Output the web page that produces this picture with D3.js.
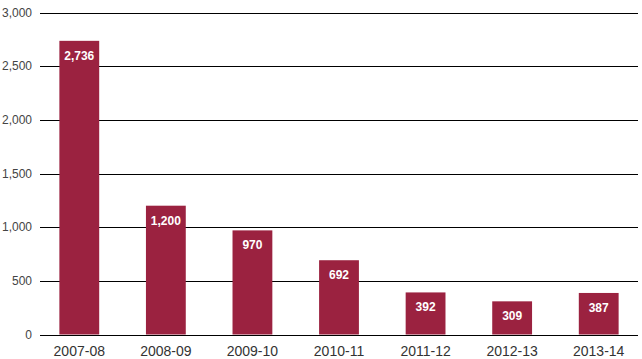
<!DOCTYPE html>
<html><head><meta charset="utf-8">
<script src="https://cdn.jsdelivr.net/npm/d3@7"></script>
<style>body{margin:0;background:#fff}svg{display:block}</style>
</head><body>
<script>
const categories = ["2007-08","2008-09","2009-10","2010-11","2011-12","2012-13","2013-14"];
const values = [2736,1200,970,692,392,309,387];
const yTicks = [0,500,1000,1500,2000,2500,3000];

const W = 642, H = 359;
const svg = d3.select("body").append("svg").attr("width",W).attr("height",H);
const font = "'Liberation Sans', Arial, Helvetica, sans-serif";

const x = d3.scaleBand().domain(categories).range([36,642]).paddingInner(0.54).paddingOuter(0.27);
const y = d3.scaleLinear().domain([0,3000]).range([334.5,12.5]);

// grid lines
svg.append("g").selectAll("line").data(yTicks).join("line")
  .attr("x1",40).attr("x2",638)
  .attr("y1",d=>Math.round(y(d))+0.5).attr("y2",d=>Math.round(y(d))+0.5)
  .attr("stroke","#000").attr("stroke-width",1);

// y labels
svg.append("g").selectAll("text").data(yTicks).join("text")
  .attr("x",32).attr("y",d=>y(d)+4)
  .attr("text-anchor","end").attr("font-family",font).attr("font-size",12)
  .attr("fill","#444").text(d=>d3.format(",")(d));

// bars
svg.append("g").selectAll("rect").data(values).join("rect")
  .attr("x",(d,i)=>x(categories[i])).attr("width",x.bandwidth())
  .attr("y",d=>y(d)).attr("height",d=>y(0)-y(d))
  .attr("fill","#9B2240");

// value labels
svg.append("g").selectAll("text").data(values).join("text")
  .attr("x",(d,i)=>x(categories[i])+x.bandwidth()/2).attr("y",d=>y(d)+19)
  .attr("text-anchor","middle").attr("font-family",font).attr("font-size",12)
  .attr("font-weight","bold").attr("fill","#fff").text(d=>d3.format(",")(d));

// x labels
svg.append("g").selectAll("text").data(categories).join("text")
  .attr("x",d=>x(d)+x.bandwidth()/2).attr("y",356)
  .attr("text-anchor","middle").attr("font-family",font).attr("font-size",14)
  .attr("fill","#333").text(d=>d);
</script>
</body></html>
